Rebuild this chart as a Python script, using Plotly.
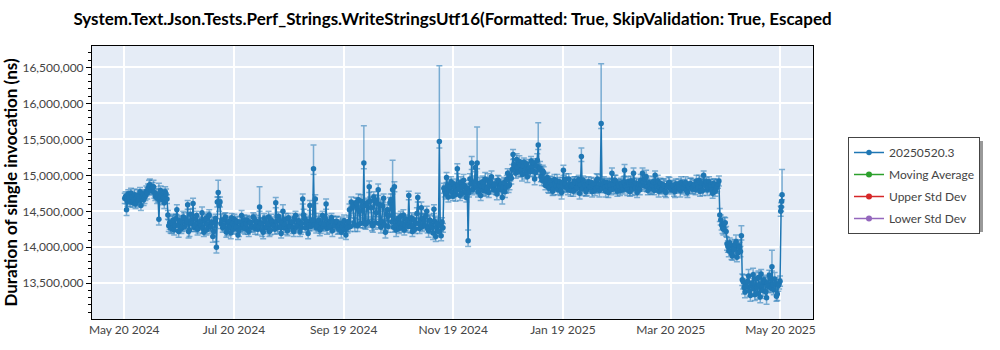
import plotly.graph_objects as go

# Calendar days with two benchmark runs each (06:00 and 18:00)
run_days = [
    "2024-05-20", "2024-05-21", "2024-05-22", "2024-05-23", "2024-05-24", "2024-05-25", "2024-05-26", "2024-05-27",
    "2024-05-28", "2024-05-29", "2024-05-30", "2024-05-31",
    "2024-06-01", "2024-06-02", "2024-06-03", "2024-06-04", "2024-06-05", "2024-06-06", "2024-06-07", "2024-06-08",
    "2024-06-09", "2024-06-10", "2024-06-11", "2024-06-12", "2024-06-13", "2024-06-14", "2024-06-15", "2024-06-16",
    "2024-06-17", "2024-06-18", "2024-06-19", "2024-06-20", "2024-06-21", "2024-06-22", "2024-06-23", "2024-06-24",
    "2024-06-25", "2024-06-26", "2024-06-27", "2024-06-28", "2024-06-29", "2024-06-30",
    "2024-07-01", "2024-07-02", "2024-07-03", "2024-07-04", "2024-07-05", "2024-07-06", "2024-07-07", "2024-07-08",
    "2024-07-09", "2024-07-10", "2024-07-11", "2024-07-12", "2024-07-13", "2024-07-14", "2024-07-15", "2024-07-16",
    "2024-07-17", "2024-07-18", "2024-07-19", "2024-07-20", "2024-07-21", "2024-07-22", "2024-07-23", "2024-07-24",
    "2024-07-25", "2024-07-26", "2024-07-27", "2024-07-28", "2024-07-29", "2024-07-30", "2024-07-31",
    "2024-08-01", "2024-08-02", "2024-08-03", "2024-08-04", "2024-08-05", "2024-08-06", "2024-08-07", "2024-08-08",
    "2024-08-09", "2024-08-10", "2024-08-11", "2024-08-12", "2024-08-13", "2024-08-14", "2024-08-15", "2024-08-16",
    "2024-08-17", "2024-08-18", "2024-08-19", "2024-08-20", "2024-08-21", "2024-08-22", "2024-08-23", "2024-08-24",
    "2024-08-25", "2024-08-26", "2024-08-27", "2024-08-28", "2024-08-29", "2024-08-30", "2024-08-31",
    "2024-09-01", "2024-09-02", "2024-09-03", "2024-09-04", "2024-09-05", "2024-09-06", "2024-09-07", "2024-09-08",
    "2024-09-09", "2024-09-10", "2024-09-11", "2024-09-12", "2024-09-13", "2024-09-14", "2024-09-15", "2024-09-16",
    "2024-09-17", "2024-09-18", "2024-09-19", "2024-09-20", "2024-09-21", "2024-09-22", "2024-09-23", "2024-09-24",
    "2024-09-25", "2024-09-26", "2024-09-27", "2024-09-28", "2024-09-29", "2024-09-30",
    "2024-10-01", "2024-10-02", "2024-10-03", "2024-10-04", "2024-10-05", "2024-10-06", "2024-10-07", "2024-10-08",
    "2024-10-09", "2024-10-10", "2024-10-11", "2024-10-12", "2024-10-13", "2024-10-14", "2024-10-15", "2024-10-16",
    "2024-10-17", "2024-10-18", "2024-10-19", "2024-10-20", "2024-10-21", "2024-10-22", "2024-10-23", "2024-10-24",
    "2024-10-25", "2024-10-26", "2024-10-27", "2024-10-28", "2024-10-29", "2024-10-30", "2024-10-31",
    "2024-11-01", "2024-11-02", "2024-11-03", "2024-11-04", "2024-11-05", "2024-11-06", "2024-11-07", "2024-11-08",
    "2024-11-09", "2024-11-10", "2024-11-11", "2024-11-12", "2024-11-13", "2024-11-14", "2024-11-15", "2024-11-16",
    "2024-11-17", "2024-11-18", "2024-11-19", "2024-11-20", "2024-11-21", "2024-11-22", "2024-11-23", "2024-11-24",
    "2024-11-25", "2024-11-26", "2024-11-27", "2024-11-28", "2024-11-29", "2024-11-30",
    "2024-12-01", "2024-12-02", "2024-12-03", "2024-12-04", "2024-12-05", "2024-12-06", "2024-12-07", "2024-12-08",
    "2024-12-09", "2024-12-10", "2024-12-11", "2024-12-12", "2024-12-13", "2024-12-14", "2024-12-15", "2024-12-16",
    "2024-12-17", "2024-12-18", "2024-12-19", "2024-12-20", "2024-12-21", "2024-12-22", "2024-12-23", "2024-12-24",
    "2024-12-25", "2024-12-26", "2024-12-27", "2024-12-28", "2024-12-29", "2024-12-30", "2024-12-31",
    "2025-01-01", "2025-01-02", "2025-01-03", "2025-01-04", "2025-01-05", "2025-01-06", "2025-01-07", "2025-01-08",
    "2025-01-09", "2025-01-10", "2025-01-11", "2025-01-12", "2025-01-13", "2025-01-14", "2025-01-15", "2025-01-16",
    "2025-01-17", "2025-01-18", "2025-01-19", "2025-01-20", "2025-01-21", "2025-01-22", "2025-01-23", "2025-01-24",
    "2025-01-25", "2025-01-26", "2025-01-27", "2025-01-28", "2025-01-29", "2025-01-30", "2025-01-31",
    "2025-02-01", "2025-02-02", "2025-02-03", "2025-02-04", "2025-02-05", "2025-02-06", "2025-02-07", "2025-02-08",
    "2025-02-09", "2025-02-10", "2025-02-11", "2025-02-12", "2025-02-13", "2025-02-14", "2025-02-15", "2025-02-16",
    "2025-02-17", "2025-02-18", "2025-02-19", "2025-02-20", "2025-02-21", "2025-02-22", "2025-02-23", "2025-02-24",
    "2025-02-25", "2025-02-26", "2025-02-27", "2025-02-28",
    "2025-03-01", "2025-03-02", "2025-03-03", "2025-03-04", "2025-03-05", "2025-03-06", "2025-03-07", "2025-03-08",
    "2025-03-09", "2025-03-10", "2025-03-11", "2025-03-12", "2025-03-13", "2025-03-14", "2025-03-15", "2025-03-16",
    "2025-03-17", "2025-03-18", "2025-03-19", "2025-03-20", "2025-03-21", "2025-03-22", "2025-03-23", "2025-03-24",
    "2025-03-25", "2025-03-26", "2025-03-27", "2025-03-28", "2025-03-29", "2025-03-30", "2025-03-31",
    "2025-04-01", "2025-04-02", "2025-04-03", "2025-04-04", "2025-04-05", "2025-04-06", "2025-04-07", "2025-04-08",
    "2025-04-09", "2025-04-10", "2025-04-11", "2025-04-12", "2025-04-13", "2025-04-14", "2025-04-15", "2025-04-16",
    "2025-04-17", "2025-04-18", "2025-04-19", "2025-04-20", "2025-04-21", "2025-04-22", "2025-04-23", "2025-04-24",
    "2025-04-25", "2025-04-26", "2025-04-27", "2025-04-28", "2025-04-29", "2025-04-30",
    "2025-05-01", "2025-05-02", "2025-05-03", "2025-05-04", "2025-05-05", "2025-05-06", "2025-05-07", "2025-05-08",
    "2025-05-09", "2025-05-10", "2025-05-11", "2025-05-12", "2025-05-13", "2025-05-14", "2025-05-15", "2025-05-16",
    "2025-05-17", "2025-05-18", "2025-05-19",
]

# Mean duration of the 06:00 run, in milliseconds
first_run_ms = [
    14.68, 14.52, 14.74, 14.63, 14.70, 14.66, 14.60, 14.72, 14.67, 14.58, 14.74, 14.69,
    14.78, 14.82, 14.87, 14.80, 14.84, 14.71, 14.68, 14.39, 14.79, 14.66,
    14.62, 14.74, 14.45, 14.34, 14.26, 14.38, 14.30, 14.52, 14.22, 14.35,
    14.28, 14.41, 14.33, 14.59, 14.24, 14.37, 14.61, 14.30, 14.44, 14.27,
    14.36, 14.48, 14.21, 14.40, 14.32, 14.45, 14.29, 14.15, 14.34, 14.00,
    14.76, 14.63, 14.38, 14.30, 14.42, 14.25, 14.36, 14.20, 14.33, 14.39,
    14.28, 14.17, 14.35, 14.44, 14.31, 14.26, 14.38, 14.22, 14.34, 14.29, 14.40,
    14.30, 14.25, 14.56, 14.33, 14.21, 14.37, 14.28, 14.42, 14.24, 14.35,
    14.30, 14.62, 14.27, 14.38, 14.19, 14.50, 14.32, 14.26, 14.41, 14.29,
    14.35, 14.22, 14.44, 14.31, 14.36, 14.27, 14.67, 14.40, 14.33, 14.19, 14.58,
    14.34, 15.09, 14.67, 14.30, 14.38, 14.26, 14.44, 14.32, 14.60, 14.35,
    14.28, 14.41, 14.36, 14.30, 14.36, 14.25, 14.33, 14.29, 14.37, 14.17,
    14.27, 14.52, 14.63, 14.58, 14.31, 14.61, 14.66, 14.33, 14.57, 15.17,
    14.32, 14.62, 14.84, 14.55, 14.30, 14.66, 14.48, 14.80, 14.59, 14.36,
    14.68, 14.21, 14.52, 14.44, 14.66, 14.80, 14.84, 14.24, 14.40, 14.33,
    14.27, 14.45, 14.31, 14.36, 14.72, 14.29, 14.22, 14.38, 14.34, 14.69, 14.26,
    14.55, 14.40, 14.30, 14.50, 14.23, 14.37, 14.27, 14.53, 14.15, 14.33,
    15.47, 14.16, 14.27, 14.78, 14.97, 14.70, 14.84, 14.76, 14.88, 14.73,
    15.09, 14.81, 14.90, 14.75, 14.86, 14.69, 14.09, 14.95, 15.17, 14.82,
    15.11, 15.17, 14.80, 14.72, 14.91, 14.84, 14.78, 14.93, 14.86, 14.98,
    14.80, 14.88, 14.74, 14.92, 14.85, 14.69, 14.90, 14.83, 15.03, 14.87,
    14.96, 15.29, 15.12, 15.22, 15.05, 15.14, 15.01, 15.18, 15.08, 14.98, 15.10,
    15.20, 15.06, 14.95, 15.13, 15.42, 15.10, 14.93, 15.04, 14.86, 14.97,
    14.82, 14.90, 14.78, 14.94, 14.85, 14.80, 14.91, 14.76, 15.07, 14.88,
    14.83, 14.95, 14.79, 14.87, 14.92, 14.81, 14.89, 14.75, 15.26, 14.93, 14.86,
    14.80, 14.91, 14.84, 14.77, 14.88, 14.82, 14.95, 14.79, 15.72, 14.87,
    14.83, 14.90, 14.76, 14.86, 15.03, 14.81, 14.92, 14.78, 14.85, 14.89,
    14.80, 15.07, 14.84, 14.91, 14.77, 14.87, 15.03, 14.82,
    14.76, 14.88, 14.93, 15.03, 14.85, 14.98, 14.79, 14.87, 14.82, 14.91,
    15.00, 14.84, 14.78, 14.89, 14.81, 14.86, 14.76, 14.84, 14.90, 14.80,
    14.85, 14.77, 14.83, 14.88, 14.79, 14.86, 14.82, 14.90, 14.76, 14.84, 14.88,
    14.81, 14.87, 14.92, 14.83, 14.78, 14.89, 15.00, 14.86, 14.80, 14.91,
    14.84, 14.75, 14.87, 14.82, 14.88, 14.45, 14.31, 14.25, 14.34, 14.05,
    13.95, 14.03, 13.88, 13.97, 14.08, 13.92, 14.00, 14.16, 13.52, 13.38,
    13.45, 13.60, 13.33, 13.50, 13.42, 13.56, 13.36, 13.48, 13.63, 13.40,
    13.52, 13.30, 13.46, 13.57, 13.73, 13.41, 13.50, 13.35, 13.49,
]

# Mean duration of the 18:00 run, in milliseconds
second_run_ms = [
    14.71, 14.64, 14.69, 14.75, 14.62, 14.73, 14.68, 14.65, 14.77, 14.70, 14.66, 14.72,
    14.75, 14.86, 14.79, 14.83, 14.76, 14.74, 14.72, 14.70, 14.73, 14.69,
    14.77, 14.67, 14.30, 14.27, 14.35, 14.24, 14.40, 14.31, 14.37, 14.26,
    14.42, 14.29, 14.36, 14.22, 14.46, 14.33, 14.28, 14.39, 14.25, 14.34,
    14.30, 14.26, 14.37, 14.24, 14.43, 14.28, 14.35, 14.22, 14.40, 14.63,
    14.58, 14.33, 14.27, 14.39, 14.21, 14.34, 14.29, 14.41, 14.25, 14.31,
    14.36, 14.23, 14.30, 14.27, 14.38, 14.33, 14.24, 14.35, 14.28, 14.42, 14.26,
    14.36, 14.29, 14.34, 14.24, 14.40, 14.27, 14.33, 14.22, 14.38, 14.31,
    14.25, 14.36, 14.43, 14.29, 14.34, 14.27, 14.39, 14.23, 14.30, 14.35,
    14.26, 14.41, 14.28, 14.37, 14.22, 14.33, 14.45, 14.27, 14.36, 14.31, 14.29,
    14.38, 14.31, 14.27, 14.36, 14.24, 14.33, 14.29, 14.40, 14.26, 14.32,
    14.37, 14.23, 14.30, 14.35, 14.27, 14.31, 14.21, 14.34, 14.25, 14.30,
    14.36, 14.29, 14.55, 14.34, 14.62, 14.30, 14.50, 14.64, 14.34, 14.33,
    14.58, 14.35, 14.64, 14.31, 14.70, 14.34, 14.61, 14.33, 14.28, 14.57,
    14.31, 14.46, 14.29, 14.62, 14.35, 14.28, 14.30, 14.37, 14.26, 14.43,
    14.32, 14.24, 14.39, 14.29, 14.34, 14.41, 14.30, 14.25, 14.47, 14.33, 14.38,
    14.29, 14.35, 14.44, 14.26, 14.38, 14.31, 14.20, 14.36, 14.28, 14.22,
    14.30, 14.35, 14.82, 14.74, 14.86, 14.80, 14.91, 14.71, 14.83, 14.79,
    14.87, 14.72, 14.84, 14.93, 14.78, 14.82, 14.76, 14.88, 14.80, 14.91,
    14.84, 14.77, 14.89, 14.85, 14.79, 14.95, 14.82, 14.76, 14.91, 14.84,
    14.87, 14.79, 14.93, 14.80, 14.88, 14.83, 14.77, 14.94, 14.85, 14.99,
    15.08, 15.15, 15.03, 15.11, 15.19, 15.07, 15.13, 15.02, 15.16, 15.09, 15.05,
    15.12, 15.17, 15.04, 15.21, 15.08, 14.98, 15.06, 14.91, 14.95, 14.84,
    14.93, 14.87, 14.81, 14.89, 14.92, 14.86, 14.79, 14.90, 14.84, 14.95,
    14.80, 14.88, 14.85, 14.78, 14.90, 14.83, 14.94, 14.87, 14.81, 14.89, 14.77,
    14.87, 14.83, 14.90, 14.86, 14.79, 14.93, 14.84, 14.88, 14.82, 14.91,
    14.78, 14.85, 14.89, 14.80, 14.87, 14.93, 14.83, 14.88, 14.79, 14.84,
    14.91, 14.86, 14.80, 14.88, 14.92, 14.81, 14.85, 14.89,
    14.83, 14.80, 14.87, 14.91, 14.95, 14.84, 14.90, 14.82, 14.86, 14.79,
    14.88, 14.92, 14.83, 14.80, 14.87, 14.78, 14.85, 14.89, 14.82, 14.86,
    14.79, 14.88, 14.84, 14.81, 14.90, 14.83, 14.87, 14.79, 14.85, 14.88, 14.82,
    14.86, 14.80, 14.88, 14.93, 14.84, 14.79, 14.87, 14.91, 14.83, 14.86,
    14.80, 14.89, 14.78, 14.85, 14.92, 14.38, 14.27, 14.33, 14.22, 14.01,
    14.06, 13.91, 13.99, 14.04, 13.86, 14.02, 13.94, 13.55, 13.44, 13.49,
    13.53, 13.39, 13.47, 13.62, 13.34, 13.44, 13.58, 13.31, 13.45, 13.55,
    13.38, 13.50, 13.61, 13.43, 13.48, 13.56, 13.32, 13.47, 13.53,
]

# Half-width of the error interval of the 06:00 run, in milliseconds
first_err_ms = [
    0.07, 0.08, 0.06, 0.07, 0.08, 0.07, 0.06, 0.08, 0.07, 0.07, 0.06, 0.08,
    0.07, 0.06, 0.08, 0.07, 0.09, 0.06, 0.07, 0.08, 0.06, 0.07,
    0.08, 0.07, 0.06, 0.09, 0.07, 0.08, 0.06, 0.07, 0.08, 0.07,
    0.06, 0.07, 0.08, 0.06, 0.09, 0.07, 0.07, 0.08, 0.06, 0.07,
    0.07, 0.08, 0.06, 0.07, 0.09, 0.07, 0.06, 0.08, 0.07, 0.08,
    0.06, 0.07, 0.08, 0.07, 0.06, 0.09, 0.07, 0.08, 0.06, 0.07,
    0.08, 0.06, 0.07, 0.07, 0.09, 0.08, 0.06, 0.07, 0.08, 0.07, 0.06,
    0.07, 0.08, 0.06, 0.07, 0.09, 0.07, 0.06, 0.08, 0.07, 0.07,
    0.06, 0.07, 0.08, 0.07, 0.06, 0.09, 0.07, 0.08, 0.06, 0.07,
    0.08, 0.07, 0.06, 0.07, 0.08, 0.09, 0.07, 0.06, 0.08, 0.07, 0.07,
    0.07, 0.08, 0.06, 0.07, 0.09, 0.07, 0.06, 0.08, 0.07, 0.07,
    0.08, 0.06, 0.07, 0.08, 0.07, 0.06, 0.09, 0.07, 0.08, 0.06,
    0.07, 0.08, 0.07, 0.06, 0.09, 0.07, 0.08, 0.06, 0.07, 0.08,
    0.07, 0.06, 0.08, 0.07, 0.09, 0.07, 0.06, 0.08, 0.07, 0.07,
    0.06, 0.08, 0.07, 0.07, 0.08, 0.06, 0.07, 0.09, 0.07, 0.08,
    0.06, 0.07, 0.08, 0.07, 0.06, 0.09, 0.07, 0.08, 0.07, 0.06, 0.07,
    0.08, 0.07, 0.06, 0.07, 0.09, 0.07, 0.08, 0.06, 0.07, 0.08,
    0.09, 0.07, 0.06, 0.08, 0.07, 0.07, 0.06, 0.08, 0.07, 0.09,
    0.07, 0.06, 0.08, 0.07, 0.07, 0.06, 0.08, 0.07, 0.09, 0.07,
    0.06, 0.08, 0.07, 0.07, 0.08, 0.06, 0.07, 0.09, 0.07, 0.08,
    0.06, 0.07, 0.08, 0.07, 0.06, 0.09, 0.07, 0.08, 0.06, 0.07,
    0.08, 0.07, 0.06, 0.08, 0.07, 0.07, 0.09, 0.06, 0.07, 0.08, 0.07,
    0.06, 0.07, 0.08, 0.07, 0.06, 0.09, 0.07, 0.08, 0.06, 0.07,
    0.07, 0.08, 0.06, 0.07, 0.08, 0.07, 0.06, 0.09, 0.07, 0.08,
    0.06, 0.07, 0.08, 0.07, 0.06, 0.07, 0.09, 0.08, 0.07, 0.06, 0.07,
    0.08, 0.07, 0.06, 0.07, 0.08, 0.07, 0.06, 0.09, 0.07, 0.08,
    0.07, 0.06, 0.07, 0.08, 0.07, 0.06, 0.08, 0.07, 0.09, 0.07,
    0.06, 0.08, 0.07, 0.07, 0.06, 0.08, 0.07, 0.09,
    0.07, 0.06, 0.08, 0.07, 0.07, 0.09, 0.06, 0.07, 0.08, 0.07,
    0.06, 0.07, 0.08, 0.07, 0.06, 0.09, 0.07, 0.08, 0.07, 0.06,
    0.07, 0.08, 0.06, 0.07, 0.09, 0.07, 0.06, 0.08, 0.07, 0.07, 0.08,
    0.07, 0.06, 0.08, 0.07, 0.07, 0.09, 0.06, 0.07, 0.08, 0.07,
    0.06, 0.07, 0.08, 0.07, 0.06, 0.09, 0.07, 0.08, 0.07, 0.09,
    0.08, 0.07, 0.06, 0.08, 0.09, 0.07, 0.07, 0.06, 0.10, 0.08,
    0.07, 0.09, 0.08, 0.07, 0.06, 0.09, 0.08, 0.07, 0.06, 0.08,
    0.07, 0.09, 0.08, 0.07, 0.06, 0.07, 0.08, 0.09, 0.07,
]

# Half-width of the error interval of the 18:00 run, in milliseconds
second_err_ms = [
    0.06, 0.07, 0.08, 0.07, 0.06, 0.08, 0.07, 0.09, 0.06, 0.07, 0.08, 0.07,
    0.08, 0.07, 0.06, 0.07, 0.08, 0.07, 0.09, 0.06, 0.07, 0.08,
    0.07, 0.06, 0.08, 0.07, 0.09, 0.07, 0.06, 0.08, 0.07, 0.07,
    0.08, 0.06, 0.07, 0.09, 0.07, 0.08, 0.06, 0.07, 0.08, 0.07,
    0.06, 0.07, 0.08, 0.07, 0.06, 0.09, 0.08, 0.07, 0.06, 0.07,
    0.08, 0.07, 0.06, 0.08, 0.07, 0.07, 0.09, 0.06, 0.07, 0.08,
    0.07, 0.08, 0.06, 0.07, 0.07, 0.09, 0.06, 0.08, 0.07, 0.06, 0.08,
    0.08, 0.06, 0.07, 0.09, 0.07, 0.08, 0.06, 0.07, 0.08, 0.07,
    0.07, 0.08, 0.06, 0.07, 0.09, 0.06, 0.08, 0.07, 0.07, 0.06,
    0.07, 0.06, 0.08, 0.09, 0.07, 0.07, 0.08, 0.06, 0.07, 0.08, 0.06,
    0.08, 0.06, 0.07, 0.07, 0.08, 0.09, 0.07, 0.06, 0.08, 0.07,
    0.07, 0.08, 0.06, 0.07, 0.09, 0.07, 0.08, 0.06, 0.07, 0.08,
    0.06, 0.07, 0.08, 0.07, 0.07, 0.08, 0.06, 0.09, 0.07, 0.07,
    0.08, 0.07, 0.06, 0.08, 0.07, 0.09, 0.07, 0.06, 0.08, 0.07,
    0.07, 0.06, 0.08, 0.07, 0.09, 0.07, 0.08, 0.06, 0.07, 0.07,
    0.08, 0.07, 0.06, 0.08, 0.07, 0.07, 0.09, 0.06, 0.08, 0.07, 0.08,
    0.07, 0.08, 0.07, 0.06, 0.08, 0.07, 0.09, 0.07, 0.06, 0.07,
    0.08, 0.06, 0.07, 0.07, 0.08, 0.09, 0.07, 0.06, 0.08, 0.07,
    0.06, 0.07, 0.09, 0.08, 0.07, 0.07, 0.06, 0.08, 0.07, 0.08,
    0.07, 0.07, 0.08, 0.06, 0.07, 0.09, 0.08, 0.07, 0.06, 0.07,
    0.08, 0.06, 0.07, 0.08, 0.07, 0.07, 0.08, 0.06, 0.09, 0.07,
    0.07, 0.08, 0.07, 0.06, 0.08, 0.09, 0.07, 0.07, 0.06, 0.08, 0.07,
    0.08, 0.06, 0.07, 0.09, 0.07, 0.07, 0.08, 0.06, 0.07, 0.08,
    0.06, 0.07, 0.08, 0.07, 0.09, 0.06, 0.07, 0.07, 0.08, 0.07,
    0.07, 0.08, 0.06, 0.07, 0.08, 0.07, 0.06, 0.07, 0.09, 0.08, 0.06,
    0.07, 0.08, 0.07, 0.06, 0.07, 0.09, 0.08, 0.07, 0.06, 0.07,
    0.08, 0.07, 0.06, 0.07, 0.08, 0.07, 0.09, 0.06, 0.07, 0.08,
    0.07, 0.07, 0.08, 0.06, 0.07, 0.09, 0.08, 0.07,
    0.06, 0.07, 0.07, 0.08, 0.06, 0.07, 0.09, 0.08, 0.07, 0.06,
    0.07, 0.08, 0.07, 0.06, 0.08, 0.07, 0.07, 0.09, 0.06, 0.07,
    0.08, 0.07, 0.07, 0.06, 0.08, 0.09, 0.07, 0.07, 0.06, 0.08, 0.07,
    0.08, 0.07, 0.06, 0.07, 0.09, 0.07, 0.08, 0.06, 0.07, 0.08,
    0.07, 0.06, 0.07, 0.08, 0.07, 0.07, 0.08, 0.09, 0.07, 0.08,
    0.07, 0.08, 0.09, 0.07, 0.06, 0.08, 0.07, 0.08, 0.09, 0.07,
    0.08, 0.07, 0.06, 0.09, 0.08, 0.07, 0.09, 0.08, 0.07, 0.06,
    0.09, 0.08, 0.07, 0.06, 0.08, 0.09, 0.07, 0.08, 0.07,
]

# Extra runs on the final day
final_day_runs = ["2025-05-20 03:00", "2025-05-20 09:00", "2025-05-20 15:00", "2025-05-20 21:00"]
final_day_ms = [14.50, 14.56, 14.64, 14.73]
final_day_err_ms = [0.07, 0.06, 0.08, 0.07]

# Runs whose upper error reaches well above the mean, in milliseconds
upper_error_ms = {
    "2024-06-08 06:00": 0.50, "2024-07-11 06:00": 0.17, "2024-08-03 06:00": 0.28, "2024-09-02 06:00": 0.33,
    "2024-09-30 06:00": 0.52, "2024-10-16 06:00": 0.41, "2024-11-11 06:00": 1.05, "2024-11-27 06:00": 0.15,
    "2024-12-02 06:00": 0.50, "2025-01-05 06:00": 0.31, "2025-01-29 06:00": 0.12, "2025-02-09 06:00": 0.83,
    "2025-04-28 06:00": 0.14, "2025-05-15 06:00": 0.23, "2025-05-20 21:00": 0.35,
}

x_tick_dates = ["2024-05-20", "2024-07-20", "2024-09-19", "2024-11-19", "2025-01-19", "2025-03-20", "2025-05-20"]
x_tick_labels = ["May 20 2024", "Jul 20 2024", "Sep 19 2024", "Nov 19 2024", "Jan 19 2025", "Mar 20 2025", "May 20 2025"]

series_name = "20250520.3"
overlay_names = ["Moving Average", "Upper Std Dev", "Lower Std Dev"]
overlay_colors = ["#2ca02c", "#d62728", "#9467bd"]

title_text = "System.Text.Json.Tests.Perf_Strings.WriteStringsUtf16(Formatted: True, SkipValidation: True, Escaped"

assert len(run_days) == len(first_run_ms) == len(second_run_ms) == len(first_err_ms) == len(second_err_ms)

# Interleave the two daily runs into one chronological series
run_times, run_ms, run_err_ms = [], [], []
for day, a, b, ea, eb in zip(run_days, first_run_ms, second_run_ms, first_err_ms, second_err_ms):
    run_times += [day + " 06:00", day + " 18:00"]
    run_ms += [a, b]
    run_err_ms += [ea, eb]
run_times += final_day_runs
run_ms += final_day_ms
run_err_ms += final_day_err_ms

NS_PER_MS = 1_000_000
y_ns = [v * NS_PER_MS for v in run_ms]
err_minus = [e * NS_PER_MS for e in run_err_ms]
err_plus = [upper_error_ms.get(t, e) * NS_PER_MS for t, e in zip(run_times, run_err_ms)]

FONT = "Lato"
BLUE = "#1f77b4"

# Plot-area placement in pixels
W, H = 1000, 350
L, R, T, B = 92, 813, 46, 319


def px_x(p):
    return (p - L) / (R - L)


def px_y(p):
    return (B - p) / (B - T)


fig = go.Figure()
fig.add_trace(go.Scatter(
    x=run_times, y=y_ns, name=series_name, mode="lines+markers", legendgroup="g0",
    line=dict(color=BLUE, width=1.5),
    marker=dict(color=BLUE, size=5.5),
    error_y=dict(type="data", symmetric=False, array=err_plus, arrayminus=err_minus,
                 color="rgba(31,119,180,0.55)", thickness=1.5, width=3),
))
for i, (name, color) in enumerate(zip(overlay_names, overlay_colors), start=1):
    fig.add_trace(go.Scatter(
        x=[None], y=[None], name=name, mode="lines+markers", legendgroup=f"g{i}",
        line=dict(color=color, width=1.5), marker=dict(color=color, size=6),
    ))

# Drop shadow behind the legend box
fig.add_shape(type="rect", xref="paper", yref="paper", layer="below",
              x0=px_x(852), x1=px_x(983), y0=px_y(232), y1=px_y(141),
              fillcolor="rgba(0,0,0,0.4)", line=dict(width=0))

fig.update_layout(
    width=W, height=H,
    margin=dict(l=L, r=W - R, t=T, b=H - B),
    paper_bgcolor="white", plot_bgcolor="#E5ECF6",
    font=dict(family=FONT, size=12, color="#444"),
    title=dict(text="<b>" + title_text + "</b>", x=(L + R) / 2 / W, xanchor="center",
               y=1 - 19 / H, yanchor="middle", yref="container",
               font=dict(family=FONT, size=17, color="black")),
    showlegend=True,
    legend=dict(x=px_x(848), y=px_y(137), xanchor="left", yanchor="top",
                bgcolor="white", bordercolor="#444", borderwidth=1, tracegroupgap=3,
                font=dict(family=FONT, size=12, color="#444")),
)
fig.update_xaxes(
    range=["2024-05-02 01:00", "2025-06-07 02:00"], automargin=False,
    tickvals=x_tick_dates, ticktext=x_tick_labels,
    showgrid=True, gridcolor="white", gridwidth=1.5,
    showline=True, linecolor="black", linewidth=1, mirror=True,
    ticks="", zeroline=False,
)
fig.update_yaxes(
    range=[13_004_000, 16_796_000], automargin=False,
    dtick=500_000, tick0=0, tickformat=",d",
    showgrid=True, gridcolor="white", gridwidth=1.5,
    showline=True, linecolor="black", linewidth=1, mirror=True,
    ticks="outside", ticklen=5, tickcolor="black",
    minor=dict(ticks="outside", ticklen=3, tickcolor="black", dtick=100_000, showgrid=False),
    zeroline=False,
    title=dict(text="<b>Duration of single invocation (ns)</b>", standoff=6,
               font=dict(family=FONT, size=17, color="black")),
)

fig.write_html("out.html")
